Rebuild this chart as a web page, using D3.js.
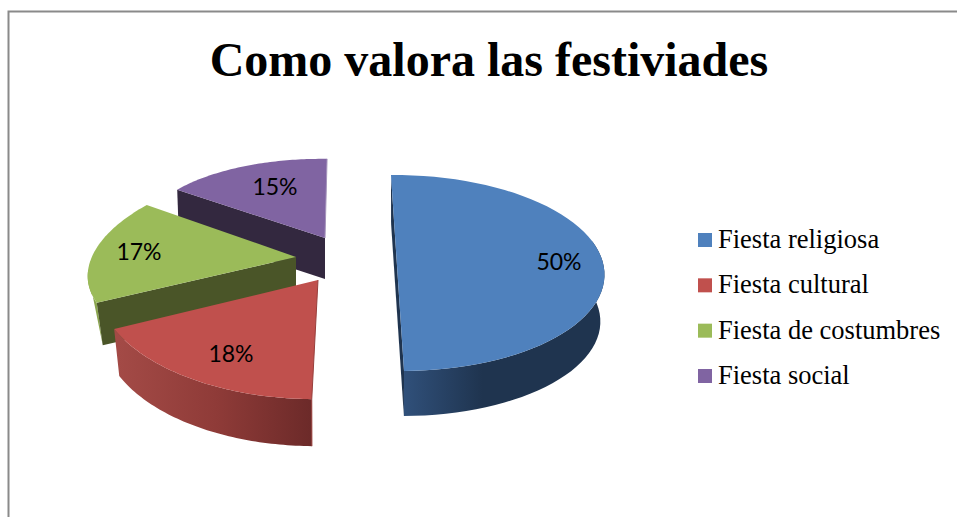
<!DOCTYPE html>
<html><head><meta charset="utf-8">
<script src="https://cdn.jsdelivr.net/npm/d3@7"></script>
<style>html,body{margin:0;padding:0;background:#fff}svg{display:block}</style>
</head><body><svg id="c" width="957" height="517"></svg>
<script>
const titleText = "Como valora las festiviades";
const categories = ["Fiesta religiosa","Fiesta cultural","Fiesta de costumbres","Fiesta social"];
const values = [50,18,17,15];
const colors = ["#4f81bd","#c0504d","#9bbb59","#8064a2"];

// 3-D look of each slice (projection of the exploded, tilted pie)
const geom = [
 {A:[397.5,273],U:[207,2],V:[-0.7,98],depth:47,kx:.98,ky:.98,wall:"#1f344f",arc:[["#30507a",0],["#1f344f",.4],["#1f344f",1]],label:[559,262]},
 {A:[318,280],U:[222,6],V:[-14,119],depth:47,kx:.975,ky:1,wall:"#7a3230",arc:[["#a34a46",0],["#8f3b38",.5],["#6c2a29",1]],label:[231,354]},
 {A:[296,257],U:[205,-2],V:[-37,96],depth:44,kx:.97,ky:.97,wall:"#4a5528",arc:[["#93ae52",0],["#8aa54d",1]],label:[139,252]},
 {A:[325,238],U:[184,5],V:[-8.5,79],depth:41,kx:.99,ky:.99,wall:"#33283f",arc:[["#33283f",0],["#33283f",1]],label:[275,187]}
];
const legendX = 698, legendY = d3.scalePoint().domain(categories).range([240,376]);

const svg = d3.select("#c");
const defs = svg.append("defs");

// frame
svg.append("path").attr("d","M8.5,517V11.5H957").attr("fill","none").attr("stroke","#8a8a8a").attr("stroke-width",2);

svg.append("text").attr("x",489).attr("y",76).attr("text-anchor","middle")
  .attr("font-family","'Liberation Serif'").attr("font-weight","bold").attr("font-size",48).attr("fill","#000").text(titleText);

const arcs = d3.pie().sort(null).startAngle(-2*Math.PI/180).endAngle(358*Math.PI/180)(values);
const pt = (g,t,low) => {
  const kx = low ? g.kx : 1, ky = low ? g.ky : 1, s=Math.sin(t), c=-Math.cos(t);
  return [g.A[0]+kx*(g.U[0]*s+g.V[0]*c), g.A[1]+(low?g.depth:0)+ky*(g.U[1]*s+g.V[1]*c)];
};
const line = d3.line();
const order = [3,2,1,0];
order.forEach(i=>{
  const a=arcs[i], g=geom[i];
  const ts=d3.range(0,61).map(j=>a.startAngle+(a.endAngle-a.startAngle)*j/60);
  const top=ts.map(t=>pt(g,t,false)), low=ts.map(t=>pt(g,t,true));
  const Alow=[g.A[0],g.A[1]+g.depth];
  const s=svg.append("g");
  const id="w"+i;
  if(i===0||i===1){
    const front=ts.filter(t=>-Math.cos(t) > -0.35);
    const xs=front.map(t=>pt(g,t,true)[0]);
    const gr=defs.append("linearGradient").attr("id",id).attr("gradientUnits","userSpaceOnUse")
       .attr("x1",d3.min(xs)).attr("x2",d3.max(xs)).attr("y1",0).attr("y2",0);
    g.arc.forEach(([c,o])=>gr.append("stop").attr("offset",o).attr("stop-color",c));
    const poly=[...front.map(t=>pt(g,t,false)),...front.slice().reverse().map(t=>pt(g,t,true))];
    s.append("path").attr("d",line(poly)+"Z").attr("fill",`url(#${id})`);
  }
  if(i===2){ // thin outer rim next to the near corner
    const rim=ts.slice(0,20).map(t=>pt(g,t,false));
    s.append("path").attr("d",line([...rim,low[0]])+"Z").attr("fill",g.arc[1][0]);
  }
  // radial walls that face the viewer
  if(i===2||i===3) s.append("path").attr("d",line([top[0],g.A,Alow,low[0]])+"Z").attr("fill",g.wall);
  if(i===0) s.append("path").attr("d",line([top[0],top[60],low[60],low[0]])+"Z").attr("fill",g.wall);
  // top face
  s.append("path").attr("d",line([g.A,...top])+"Z").attr("fill",colors[i]);
  if(i===1) s.append("path").attr("d",line([g.A,top[0],low[0]])).attr("fill","none").attr("stroke","#983f3c").attr("stroke-width",1);
  if(i===3) s.append("path").attr("d",line([g.A,top[60]])).attr("fill","none").attr("stroke","#a594bb").attr("stroke-width",1);
});

// data labels
order.forEach(i=>{
  svg.append("text").attr("x",geom[i].label[0]).attr("y",geom[i].label[1]+8)
   .attr("text-anchor","middle").attr("font-family","Lato").attr("font-size",23).attr("fill","#000").text(values[i]+"%");
});

// legend
const lg=svg.append("g").selectAll("g").data(categories).join("g")
  .attr("transform",d=>`translate(${legendX},${legendY(d)})`);
lg.append("rect").attr("x",0).attr("y",-7).attr("width",14).attr("height",14).attr("fill",(d,i)=>colors[i]);
lg.append("text").attr("x",20).attr("y",8).attr("font-family","'Liberation Serif'").attr("font-size",26.5).attr("fill","#000").text(d=>d);
</script></body></html>
